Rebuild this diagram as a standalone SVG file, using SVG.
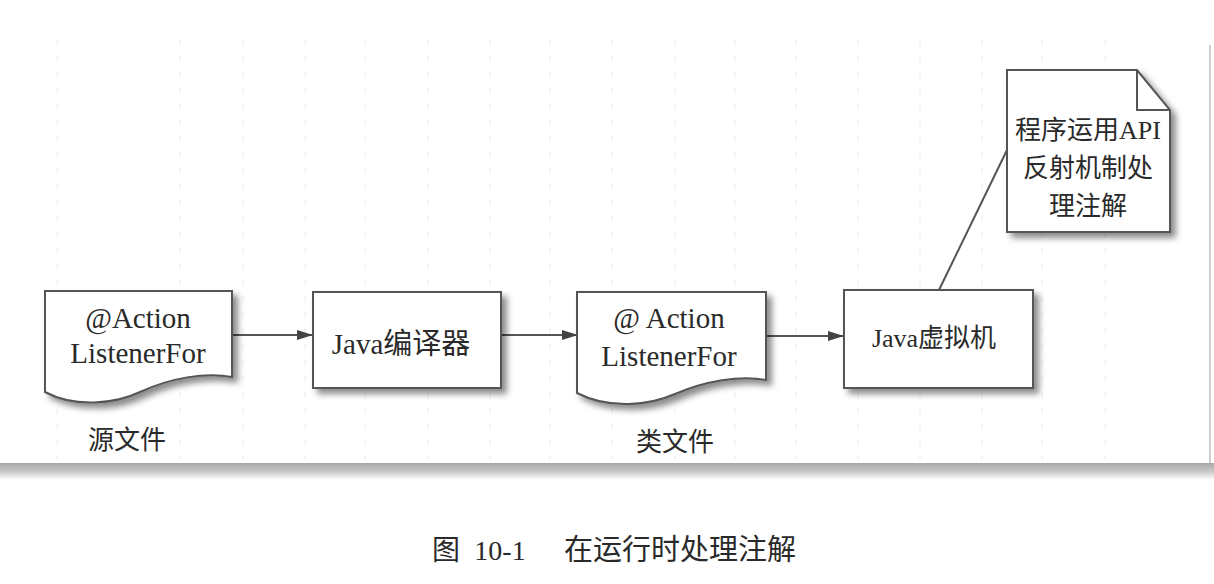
<svg xmlns="http://www.w3.org/2000/svg" width="1214" height="584" viewBox="0 0 1214 584">
<defs>
<filter id="sh" x="-10%" y="-10%" width="130%" height="140%">
<feDropShadow dx="5" dy="5" stdDeviation="3" flood-color="#000" flood-opacity="0.45"/>
</filter>
<linearGradient id="band" x1="0" y1="0" x2="0" y2="1">
<stop offset="0" stop-color="#a8a8a8"/>
<stop offset="0.5" stop-color="#c8c8c8"/>
<stop offset="1" stop-color="#ffffff"/>
</linearGradient>
<marker id="arr" markerWidth="16" markerHeight="12" refX="15" refY="6" orient="auto" markerUnits="userSpaceOnUse">
<path d="M0,1 L16,6 L0,11 Z" fill="#444"/>
</marker>
<style>
.node{fill:#fff;stroke:#555;stroke-width:2;filter:url(#sh)}
.t{font-family:"Liberation Serif","Noto Sans CJK SC",serif;font-size:29px;fill:#2a2a2a;text-anchor:middle}
.s{font-size:26px}
.c{font-family:"Noto Sans CJK SC","Liberation Serif",serif;font-size:26px;fill:#2a2a2a;text-anchor:middle}
.ln{stroke:#555;stroke-width:2;fill:none}
.grid{stroke:#ececec;stroke-width:1;stroke-dasharray:6 10;fill:none}
</style>
</defs>
<rect width="1214" height="584" fill="#fff"/>
<g id="background">
<path class="grid" d="M57,40 V460 M180,40 V460 M243,40 V460 M305,40 V460 M365,40 V460 M428,40 V460 M490,40 V460 M550,40 V460 M612,40 V460 M675,40 V460 M735,40 V460 M796,40 V460 M858,40 V460 M920,40 V460 M982,40 V460 M1042,40 V460 M1105,40 V460"/>
<line x1="1210" y1="45" x2="1210" y2="470" stroke="#d0d0d0" stroke-width="2"/>
<rect x="0" y="463" width="1214" height="17" fill="url(#band)"/>
</g>
<g id="connectors">
<line class="ln" x1="233" y1="335" x2="312" y2="335" marker-end="url(#arr)"/>
<line class="ln" x1="502" y1="335" x2="577" y2="335" marker-end="url(#arr)"/>
<line class="ln" x1="767" y1="336" x2="843" y2="336" marker-end="url(#arr)"/>
<line class="ln" x1="939" y1="290" x2="1007" y2="150"/>
</g>
<g id="source-file">
<path class="node" d="M45,291 H232 V377 C205,372 170,378 140,392 C115,404 75,408 45,392 Z"/>
<text class="t" x="138" y="328">@Action</text>
<text class="t" x="138" y="363">ListenerFor</text>
<text class="c" x="127" y="449">源文件</text>
</g>
<g id="compiler">
<rect class="node" x="313" y="292" width="188" height="96"/>
<text class="t" x="401" y="354">Java编译器</text>
</g>
<g id="class-file">
<path class="node" d="M577,292 H766 V380 C740,375 705,381 675,394 C650,405 610,410 577,393 Z"/>
<text class="t" x="669" y="328">@ Action</text>
<text class="t" x="669" y="366">ListenerFor</text>
<text class="c" x="675" y="451">类文件</text>
</g>
<g id="jvm">
<rect class="node" x="844" y="290" width="189" height="98"/>
<text class="t s" x="934" y="347">Java虚拟机</text>
</g>
<g id="note">
<path class="node" d="M1007,70 H1137 L1170,110 V232 H1007 Z"/>
<path class="ln" d="M1137,70 V110 H1170"/>
<text class="t s" x="1088" y="139">程序运用API</text>
<text class="t s" x="1088" y="177">反射机制处</text>
<text class="t s" x="1088" y="215">理注解</text>
</g>
<g id="caption">
<text class="c" x="446" y="560" style="font-size:28px">图</text>
<text class="t" x="500" y="560" style="font-size:28px">10-1</text>
<text class="c" x="680" y="560" style="font-size:29px">在运行时处理注解</text>
</g>
</svg>
